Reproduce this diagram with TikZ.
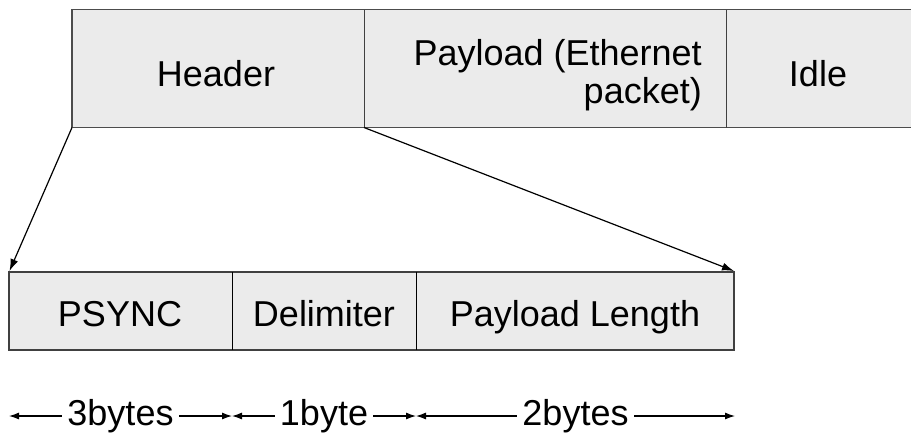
\documentclass[tikz,border=0pt]{standalone}
\usepackage{fontspec}
\setmainfont{Liberation Sans}
\usetikzlibrary{arrows.meta}
\begin{document}
\begin{tikzpicture}[x=1pt,y=-1pt,
  field/.style={draw=black!75,line width=1.3pt,fill=black!8},
  lbl/.style={font=\fontsize{36}{38}\selectfont,text=black,inner sep=0pt,anchor=base},
  link/.style={line width=1.2pt,-{Latex[length=12pt,width=8pt]}},
  dim/.style={line width=1.1pt,{Latex[length=10pt,width=7pt]}-{Latex[length=10pt,width=7pt]}},
  dimlbl/.style={font=\fontsize{36}{38}\selectfont,fill=white,inner xsep=5pt,inner ysep=0pt}]
\useasboundingbox (0,0) rectangle (911,445);
% top row
\fill[black!8] (72,9.5) rectangle (911,127.5);
\draw[draw=black!70,line width=1.6pt] (911,9.5) -- (72,9.5) -- (72,127.5) -- (911,127.5);
\draw[draw=black!75,line width=1pt] (364,9.5) -- (364,127.5) (726,9.5) -- (726,127.5);
\coordinate (hbl) at (72,127.5);
\coordinate (hbr) at (364,127.5);
\node[lbl] (header) at (216,86) {Header};
\node[lbl,align=right,anchor=base east] (payload) at (702,103) {Payload (Ethernet\\packet)};
\node[lbl] (idle) at (818,86) {Idle};
% bottom row
\draw[field] (9,272) rectangle (734,350);
\draw[draw=black,line width=1pt] (232,272) -- (232,350) (416,272) -- (416,350);
\coordinate (ptl) at (9.5,271);
\coordinate (ptr) at (734,271);
\node[lbl] (psync) at (120,326) {PSYNC};
\node[lbl] (delim) at (324,326) {Delimiter};
\node[lbl] (plen) at (575,326) {Payload Length};
% expansion arrows
\draw[link] (hbl) -- (ptl);
\draw[link] (hbr) -- (ptr);
% byte dimensions
\coordinate (d0) at (9,416);
\coordinate (d1) at (232,416);
\coordinate (d2) at (416,416);
\coordinate (d3) at (735,416);
\draw[dim] (d0) -- node[dimlbl] (b3) {3bytes} (d1);
\draw[dim] (d1) -- node[dimlbl] (b1) {1byte} (d2);
\draw[dim] (d2) -- node[dimlbl] (b2) {2bytes} (d3);
\end{tikzpicture}
\end{document}
